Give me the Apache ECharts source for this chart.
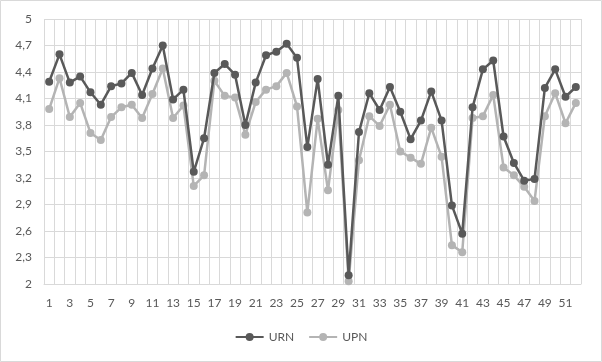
<!DOCTYPE html>
<html>
<head>
<meta charset="utf-8">
<script src="https://cdn.jsdelivr.net/npm/echarts@6/dist/echarts.min.js"></script>
<style>
html,body{margin:0;padding:0;background:#fff;}
#c{width:602px;height:362px;}
</style>
</head>
<body>
<div id="c"></div>
<script>
const categories = Array.from({length: 52}, (_, i) => String(i + 1));
const urn = [4.29,4.60,4.28,4.35,4.17,4.03,4.24,4.27,4.39,4.14,4.44,4.70,4.09,4.20,3.27,3.65,4.39,4.49,4.37,3.80,4.28,4.59,4.63,4.72,4.56,3.55,4.32,3.35,4.13,2.10,3.72,4.16,3.97,4.23,3.95,3.64,3.85,4.18,3.85,2.89,2.57,4.00,4.43,4.53,3.67,3.37,3.17,3.19,4.22,4.43,4.12,4.23];
const upn = [3.98,4.33,3.89,4.05,3.71,3.63,3.89,4.00,4.03,3.88,4.15,4.44,3.88,4.02,3.11,3.23,4.30,4.13,4.11,3.69,4.06,4.20,4.24,4.39,4.01,2.81,3.87,3.06,3.97,2.03,3.40,3.90,3.79,4.03,3.50,3.43,3.36,3.77,3.44,2.44,2.36,3.88,3.90,4.14,3.32,3.23,3.10,2.94,3.90,4.16,3.82,4.05];
const yMin = 2, yMax = 5, yStep = 0.3;

const chart = echarts.init(document.getElementById('c'), null, {renderer: 'canvas'});
const fmt = v => String(+(+v).toFixed(1)).replace('.', ',');
chart.setOption({
  animation: false,
  backgroundColor: '#fff',
  textStyle: {fontFamily: 'Lato, Liberation Sans, Arial, sans-serif'},
  graphic: [{
    type: 'rect', silent: true,
    shape: {x: 0.5, y: 0.5, width: 601, height: 361},
    style: {fill: 'none', stroke: '#d9d9d9', lineWidth: 1}
  }],
  grid: {left: 44, right: 21, top: 19, bottom: 78, containLabel: false},
  legend: {
    bottom: 14, left: 'center',
    itemWidth: 28, itemHeight: 10, itemGap: 14,
    textStyle: {color: '#595959', fontSize: 12, fontFamily: 'Lato, Liberation Sans, sans-serif'},
    data: ['URN', 'UPN']
  },
  xAxis: {
    type: 'category', data: categories, boundaryGap: true,
    axisLine: {lineStyle: {color: '#d9d9d9'}},
    axisTick: {show: false},
    axisLabel: {interval: 1, color: '#595959', fontSize: 12, margin: 13, fontFamily: 'Lato, Liberation Sans, sans-serif'},
    splitLine: {show: true, interval: 0, lineStyle: {color: '#d9d9d9', width: 1}}
  },
  yAxis: {
    type: 'value', min: yMin, max: yMax, interval: yStep,
    axisLine: {show: false}, axisTick: {show: false},
    axisLabel: {color: '#595959', fontSize: 12, margin: 12, formatter: fmt, fontFamily: 'Lato, Liberation Sans, sans-serif'},
    splitLine: {lineStyle: {color: '#d9d9d9', width: 1}}
  },
  series: [
    {name: 'URN', type: 'line', data: urn, symbol: 'circle', symbolSize: 8, showSymbol: true, showAllSymbol: true,
     itemStyle: {color: '#595959'}, lineStyle: {color: '#595959', width: 2.5}, z: 3},
    {name: 'UPN', type: 'line', data: upn, symbol: 'circle', symbolSize: 8, showSymbol: true, showAllSymbol: true,
     itemStyle: {color: '#b4b4b4'}, lineStyle: {color: '#b4b4b4', width: 2.5}, z: 2}
  ]
});
</script>
</body>
</html>
